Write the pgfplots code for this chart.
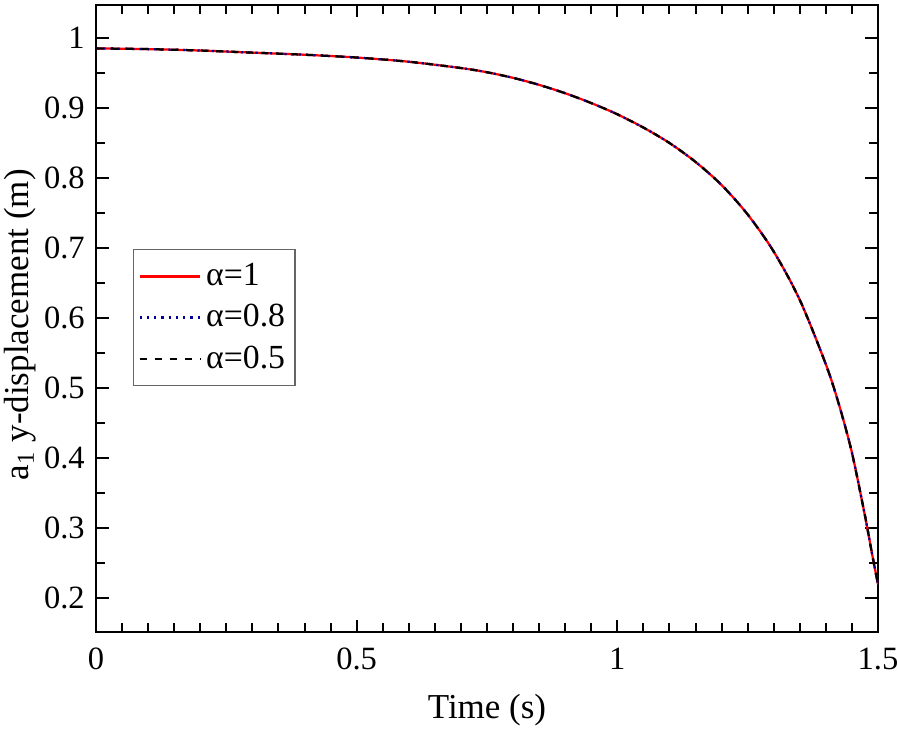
\documentclass[border=0pt]{standalone}
\usepackage{fontspec}
\setmainfont{Liberation Serif}
\usepackage{pgfplots}
\usepackage{pgfplotstable}
\pgfplotsset{compat=1.18}
\pgfplotstableread{
t y
0 0.985
0.1 0.984
0.2 0.982
0.3 0.979
0.4 0.976
0.5 0.972
0.6 0.966
0.7 0.957
0.75 0.951
0.8 0.943
0.85 0.933
0.9 0.921
0.95 0.907
1.0 0.891
1.05 0.872
1.1 0.850
1.15 0.823
1.2 0.790
1.25 0.748
1.3 0.695
1.35 0.626
1.4 0.534
1.425 0.477
1.45 0.408
1.475 0.318
1.49 0.258
1.5 0.220
}\dataA
\begin{document}
\begin{tikzpicture}
\path[use as bounding box] (-38.4pt,-39.6pt) rectangle (320.8pt,252.8pt);
\begin{axis}[
  at={(0,0)}, anchor=south west,
  scale only axis,
  width=312.8pt, height=250.8pt,
  xmin=0, xmax=1.5, ymin=0.152, ymax=1.047,
  xtick={0,0.5,1,1.5}, minor x tick num=9,
  ytick={0.2,0.3,0.4,0.5,0.6,0.7,0.8,0.9,1},
  minor y tick num=1,
  tick align=inside,
  major tick length=5pt, minor tick length=3.5pt,
  axis line style={line width=0.8pt},
  every tick/.style={black, line width=0.8pt},
  /pgf/number format/assume math mode=true,
  tick label style={font=\fontsize{13}{15}\selectfont},
  xticklabel style={yshift=-3pt},
  yticklabel style={xshift=-1pt},
  label style={font=\fontsize{14}{16}\selectfont},
  xlabel={Time (s)},
  ylabel={a\textsubscript{1} y-displacement (m)},
  xlabel style={at={(axis description cs:0.5,-0.124)}, anchor=center},
  ylabel style={at={(axis description cs:-0.097,0.49)}, anchor=center},
  legend style={at={(axis description cs:0.047,0.611)}, anchor=north west,
    draw=gray!80!black, line width=0.6pt, font=\fontsize{13.5}{15}\selectfont,
    row sep=2pt, inner xsep=2pt, inner ysep=3.5pt},
  legend cell align=left,
  legend image code/.code={\draw[#1] (0cm,0cm) -- (0.85cm,0cm);},
]
\addplot[red, line width=0.9pt, smooth] table[x=t,y=y] {\dataA};
\addlegendentry{α=1}
\addplot[blue!60!black, dotted, line width=0.9pt, smooth] table[x=t,y=y] {\dataA};
\addlegendentry{α=0.8}
\addplot[black, dashed, line width=0.9pt, smooth] table[x=t,y=y] {\dataA};
\addlegendentry{α=0.5}
\end{axis}
\end{tikzpicture}
\end{document}
